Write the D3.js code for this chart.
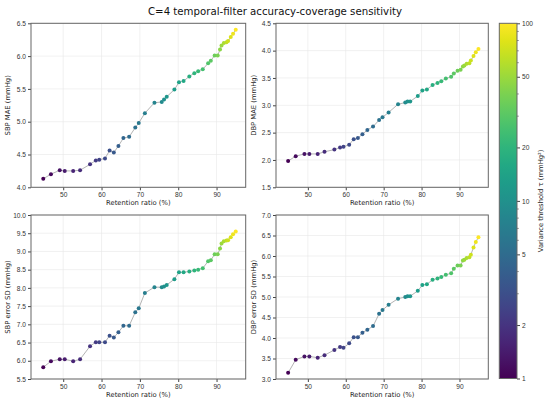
<!DOCTYPE html>
<html lang="en">
<head>
<meta charset="UTF-8">
<title>C=4 temporal-filter accuracy-coverage sensitivity</title>
<script src="https://d3js.org/d3.v7.min.js"></script>
<style>
body{margin:0;background:#fff}
svg{display:block;font-family:"DejaVu Sans",sans-serif}
.tick text{fill:#333;font-size:6.6px}
.tick line{stroke:#444}
.grid line{stroke:#e8e8e8;stroke-width:0.6}
.lbl{fill:#222;font-size:6.8px}
</style>
</head>
<body>
<svg id="chart" width="550" height="404"></svg>
<script>
// variance threshold tau per point (mmHg^2)
var tau = [1, 1.12, 1.26, 1.41, 1.58, 1.78, 2.0, 2.24, 2.51, 2.82, 3.16, 3.55, 3.98, 4.47,
  5.01, 5.62, 6.31, 7.08, 7.94, 8.91, 10, 11.2, 12.6, 14.1, 15.8, 17.8, 20, 22.4, 25.1,
  28.2, 31.6, 35.5, 39.8, 44.7, 50.1, 56.2, 63.1, 70.8, 79.4, 89.1, 100];

// retention ratio (%)
var retention = [44.8, 46.8, 49.1, 50.4, 52.6, 54.4, 57.0, 58.5, 59.4, 60.9, 62.1, 63.2,
  64.4, 65.7, 67.2, 68.8, 69.7, 71.3, 73.8, 75.7, 76.3, 77.0, 79.0, 80.2, 81.4, 82.9,
  84.2, 85.2, 86.4, 87.8, 88.5, 89.5, 90.3, 90.9, 91.3, 91.9, 92.6, 93.0, 93.7, 94.3, 95.0];

var sbpMae = [4.13, 4.20, 4.26, 4.25, 4.25, 4.26, 4.35, 4.41, 4.42, 4.44, 4.56, 4.53, 4.63,
  4.75, 4.77, 4.91, 4.98, 5.13, 5.29, 5.30, 5.34, 5.38, 5.49, 5.60, 5.62, 5.69, 5.74, 5.77,
  5.80, 5.89, 5.93, 6.01, 6.01, 6.10, 6.16, 6.20, 6.21, 6.23, 6.29, 6.34, 6.40];

var dbpMae = [1.98, 2.07, 2.11, 2.11, 2.11, 2.15, 2.19, 2.23, 2.24, 2.28, 2.38, 2.40, 2.47,
  2.55, 2.61, 2.73, 2.78, 2.87, 3.02, 3.05, 3.07, 3.07, 3.17, 3.27, 3.29, 3.37, 3.41, 3.44,
  3.49, 3.52, 3.58, 3.63, 3.65, 3.71, 3.73, 3.76, 3.77, 3.82, 3.90, 3.97, 4.03];

var sbpSd = [5.82, 5.99, 6.04, 6.04, 5.99, 6.04, 6.40, 6.51, 6.51, 6.51, 6.69, 6.64, 6.78,
  6.96, 6.96, 7.33, 7.44, 7.86, 8.02, 8.02, 8.04, 8.08, 8.24, 8.43, 8.43, 8.45, 8.48, 8.50,
  8.54, 8.73, 8.76, 8.92, 8.92, 9.08, 9.22, 9.28, 9.30, 9.31, 9.39, 9.47, 9.55];

var dbpSd = [3.15, 3.47, 3.55, 3.55, 3.52, 3.58, 3.71, 3.78, 3.76, 3.87, 4.02, 4.02, 4.13,
  4.20, 4.29, 4.59, 4.68, 4.81, 4.96, 5.00, 5.02, 5.02, 5.15, 5.29, 5.31, 5.42, 5.45, 5.49,
  5.54, 5.58, 5.69, 5.77, 5.77, 5.89, 5.91, 5.95, 5.97, 6.03, 6.21, 6.34, 6.46];

var xTicks = [50, 60, 70, 80, 90];
var cbTicks = [1, 2, 5, 10, 20, 50, 100];

var panels = [
  { values: sbpMae, label: 'SBP MAE (mmHg)', domain: [4.0, 6.5], ticks: [4.0, 4.5, 5.0, 5.5, 6.0, 6.5], col: 0, row: 0 },
  { values: dbpMae, label: 'DBP MAE (mmHg)', domain: [1.5, 4.5], ticks: [1.5, 2.0, 2.5, 3.0, 3.5, 4.0, 4.5], col: 1, row: 0 },
  { values: sbpSd, label: 'SBP error SD (mmHg)', domain: [5.5, 10.0], ticks: [5.5, 6.0, 6.5, 7.0, 7.5, 8.0, 8.5, 9.0, 9.5, 10.0], col: 0, row: 1 },
  { values: dbpSd, label: 'DBP error SD (mmHg)', domain: [3.0, 7.0], ticks: [3.0, 3.5, 4.0, 4.5, 5.0, 5.5, 6.0, 6.5, 7.0], col: 1, row: 1 }
];

var svg = d3.select('#chart');
var colLeft = [31, 276], panelW = [214.7, 212.3];
var rowTop = [23.3, 215], panelH = 164;

var color = d3.scaleSequentialLog(d3.interpolateViridis).domain([1, 100]);

svg.append('text').attr('x', 275).attr('y', 15).attr('text-anchor', 'middle')
  .style('font-size', '10.2px').style('fill', '#111')
  .text('C=4 temporal-filter accuracy-coverage sensitivity');

panels.forEach(function(p) {
  var x0 = colLeft[p.col], y0 = rowTop[p.row], w = panelW[p.col];
  var g = svg.append('g').attr('transform', 'translate(' + x0 + ',' + y0 + ')');
  var x = d3.scaleLinear().domain([41.6, 97.6]).range([0, w]);
  var y = d3.scaleLinear().domain(p.domain).range([panelH, 0]);

  // grid
  g.append('g').attr('class', 'grid').selectAll('line').data(xTicks).join('line')
    .attr('x1', x).attr('x2', x).attr('y1', 0).attr('y2', panelH);
  g.append('g').attr('class', 'grid').selectAll('line').data(p.ticks).join('line')
    .attr('y1', y).attr('y2', y).attr('x1', 0).attr('x2', w);

  g.append('g').attr('transform', 'translate(0,' + panelH + ')')
    .call(d3.axisBottom(x).tickValues(xTicks).tickSize(3).tickPadding(2).tickFormat(d3.format('d')))
    .call(function(a) { a.select('.domain').remove(); });
  g.append('g')
    .call(d3.axisLeft(y).tickValues(p.ticks).tickSize(3).tickPadding(2).tickFormat(d3.format('.1f')))
    .call(function(a) { a.select('.domain').remove(); });

  var pts = retention.map(function(r, i) { return { x: r, y: p.values[i], t: tau[i] }; });

  g.append('path').datum(pts)
    .attr('fill', 'none').attr('stroke', '#a0a0a0').attr('stroke-width', 0.8)
    .attr('d', d3.line().x(function(d) { return x(d.x); }).y(function(d) { return y(d.y); }));

  g.selectAll('circle').data(pts).join('circle')
    .attr('cx', function(d) { return x(d.x); })
    .attr('cy', function(d) { return y(d.y); })
    .attr('r', 2)
    .attr('fill', function(d) { return color(d.t); });

  g.append('rect').attr('width', w).attr('height', panelH)
    .attr('fill', 'none').attr('stroke', '#666').attr('stroke-width', 1);

  g.append('text').attr('class', 'lbl').attr('text-anchor', 'middle')
    .attr('x', w / 2).attr('y', panelH + 18)
    .text('Retention ratio (%)');
  g.append('text').attr('class', 'lbl').attr('text-anchor', 'middle')
    .attr('transform', 'translate(' + (p.col === 0 ? -21 : -20) + ',' + (panelH / 2) + ') rotate(-90)')
    .text(p.label);
});

// ── Colorbar ──
var cbX = 499.3, cbW = 17.7, cbTop = 23.3, cbH = 355.2;
var defs = svg.append('defs');
var grad = defs.append('linearGradient').attr('id', 'viridis')
  .attr('x1', 0).attr('y1', 1).attr('x2', 0).attr('y2', 0);
d3.range(0, 1.0001, 0.05).forEach(function(s) {
  grad.append('stop').attr('offset', s).attr('stop-color', d3.interpolateViridis(s));
});
var cb = svg.append('g').attr('transform', 'translate(' + cbX + ',' + cbTop + ')');
cb.append('rect').attr('width', cbW).attr('height', cbH).attr('fill', 'url(#viridis)');

var cy = d3.scaleLog().domain([1, 100]).range([cbH, 0]);
var minor = [3, 4, 6, 7, 8, 9, 30, 40, 60, 70, 80, 90];
cb.append('g').selectAll('line').data(minor).join('line')
  .attr('x1', cbW).attr('x2', cbW + 1.8).attr('y1', cy).attr('y2', cy)
  .attr('stroke', '#444').attr('stroke-width', 0.6);
cb.append('g').attr('transform', 'translate(' + cbW + ',0)')
  .call(d3.axisRight(cy).tickValues(cbTicks).tickSize(3).tickPadding(2).tickFormat(d3.format('d')))
  .call(function(a) { a.select('.domain').remove(); });
cb.append('rect').attr('width', cbW).attr('height', cbH)
  .attr('fill', 'none').attr('stroke', '#666').attr('stroke-width', 1);
cb.append('text').attr('class', 'lbl').attr('text-anchor', 'middle')
  .attr('transform', 'translate(' + (cbW + 26) + ',' + (cbH / 2) + ') rotate(-90)')
  .text('Variance threshold τ (mmHg²)');
</script>
</body>
</html>
